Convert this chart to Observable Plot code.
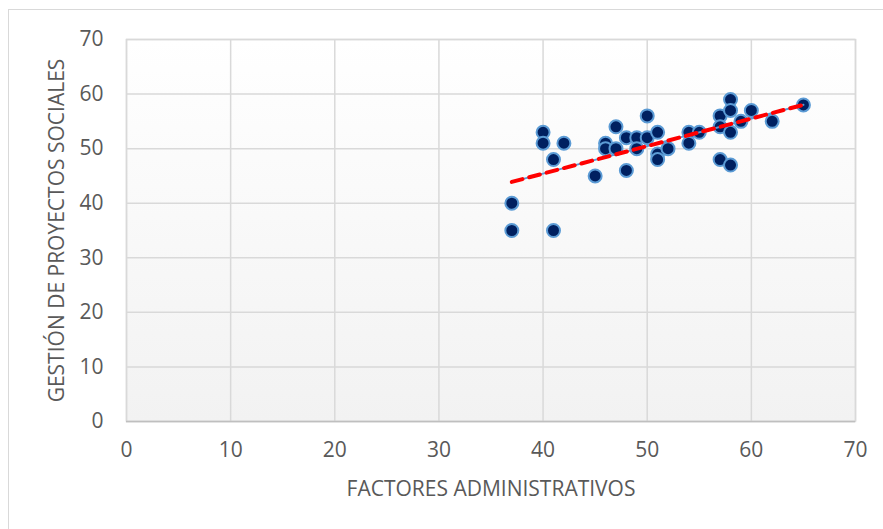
<!DOCTYPE html>
<html>
<head>
<meta charset="utf-8">
<script src="https://cdn.jsdelivr.net/npm/d3@7"></script>
<script src="https://cdn.jsdelivr.net/npm/@observablehq/plot@0.6"></script>
<style>
  html, body { margin: 0; padding: 0; background: #ffffff; }
  #wrap { position: relative; width: 883px; height: 529px; overflow: hidden; }
  #border { position: absolute; left: 8px; top: 9px; width: 1000px; height: 1000px; border: 1px solid #d9d9d9; pointer-events: none; }
</style>
</head>
<body>
<div id="wrap"><div id="chart"></div><div id="border"></div></div>
<script>
// Data
const factoresAdministrativos = [37, 37, 40, 40, 41, 41, 42, 45, 46, 46, 47, 47, 48, 48, 49, 49, 50, 50, 51, 51, 51, 52, 54, 54, 55, 57, 57, 57, 58, 58, 58, 58, 59, 60, 62, 65];
const gestionProyectos      = [40, 35, 53, 51, 48, 35, 51, 45, 51, 50, 54, 50, 52, 46, 52, 50, 56, 52, 53, 49, 48, 50, 53, 51, 53, 56, 54, 48, 59, 57, 53, 47, 55, 57, 55, 58];
const xTicks = [0, 10, 20, 30, 40, 50, 60, 70];
const yTicks = [0, 10, 20, 30, 40, 50, 60, 70];
const xTitle = "FACTORES ADMINISTRATIVOS";
const yTitle = "GESTIÓN DE PROYECTOS SOCIALES";

const data = factoresAdministrativos.map((x, i) => ({x, y: gestionProyectos[i]}));

const chart = Plot.plot({
  width: 883,
  height: 529,
  marginLeft: 126,
  marginRight: 28,
  marginTop: 39,
  marginBottom: 108,
  style: {fontFamily: "'Open Sans', sans-serif", fontSize: "21px", color: "#595959", background: "transparent"},
  x: {domain: [0, 70]},
  y: {domain: [0, 70]},
  marks: [
    Plot.frame({fill: "url(#plotbg)", stroke: "#d9d9d9", strokeWidth: 1.5}),
    Plot.gridX(xTicks, {stroke: "#d9d9d9", strokeOpacity: 1, strokeWidth: 1.5}),
    Plot.gridY(yTicks, {stroke: "#d9d9d9", strokeOpacity: 1, strokeWidth: 1.5}),
    Plot.ruleY([0], {stroke: "#bfbfbf", strokeWidth: 1.5}),
    Plot.axisX(xTicks, {tickSize: 0, tickPadding: 21, fill: "#595959", fontSize: 21, label: xTitle, labelAnchor: "center", labelArrow: "none", labelOffset: 74}),
    Plot.axisY(yTicks, {tickSize: 0, tickPadding: 23, fill: "#595959", fontSize: 21, label: yTitle, labelAnchor: "center", labelArrow: "none", labelOffset: 77}),
    Plot.dot(data, {x: "x", y: "y", r: 6.5, fill: "#002060", stroke: "#5b9bd5", strokeWidth: 2}),
    Plot.linearRegressionY(data, {x: "x", y: "y", ci: 0, stroke: "#5b9bd5", strokeWidth: 2}),
    Plot.linearRegressionY(data, {x: "x", y: "y", ci: 0, stroke: "#ff0000", strokeWidth: 4, strokeDasharray: "11,7"})
  ]
});

// gradient fill for the plot area
const svg = d3.select(chart.tagName.toLowerCase() === "svg" ? chart : chart.querySelector("svg"));
const defs = svg.insert("defs", ":first-child");
const grad = defs.append("linearGradient").attr("id", "plotbg").attr("x1", 0).attr("y1", 0).attr("x2", 0).attr("y2", 1);
grad.append("stop").attr("offset", "0%").attr("stop-color", "#ffffff");
grad.append("stop").attr("offset", "100%").attr("stop-color", "#f2f2f2");

document.getElementById("chart").appendChild(chart);
</script>
</body>
</html>
